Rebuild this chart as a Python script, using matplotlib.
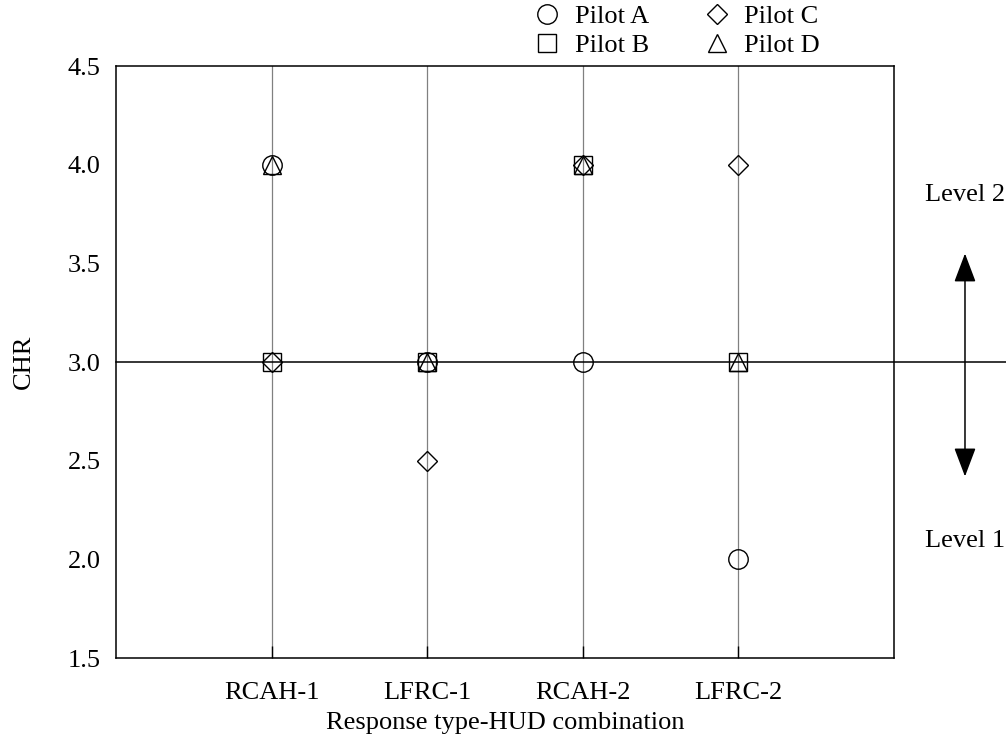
import numpy as np
import matplotlib
matplotlib.use("Agg")
import matplotlib.pyplot as plt

plt.rcParams['font.family'] = ['Liberation Serif', 'DejaVu Serif']

# CHR ratings per pilot for each response type / HUD combination
configs = ["RCAH-1", "LFRC-1", "RCAH-2", "LFRC-2"]
pilot_a = [4.0, 3.0, 3.0, 2.0]
pilot_b = [3.0, 3.0, 4.0, 3.0]
pilot_c = [3.0, 2.5, 4.0, 4.0]
pilot_d = [4.0, 3.0, 4.0, 3.0]

level_boundary = 3.0
yticks = [1.5, 2.0, 2.5, 3.0, 3.5, 4.0, 4.5]

fig = plt.figure(figsize=(10.06, 7.42), dpi=100)
ax = fig.add_axes([0.1153, 0.1132, 0.7734, 0.7978])

xpos = np.arange(1, len(configs) + 1)

# vertical guide line through each configuration
for x in xpos:
    ax.axvline(x, color="#808080", lw=0.9, zorder=1)

# Level 1 / Level 2 boundary, running past the right spine
ax.axhline(level_boundary, xmin=0, xmax=1.2, color="black", lw=1.1,
           clip_on=False, zorder=2)

style = dict(ls="none", mfc="none", mec="black", mew=1.0, zorder=3)
ax.plot(xpos, pilot_a, marker="o", ms=14, label="Pilot A", **style)
ax.plot(xpos, pilot_b, marker="s", ms=13, label="Pilot B", **style)
ax.plot(xpos, pilot_c, marker="D", ms=10, label="Pilot C", **style)
ax.plot(xpos, pilot_d, marker="^", ms=13, label="Pilot D", **style)

ax.set_xlim(0, 5)
ax.set_ylim(1.5, 4.5)
ax.set_xticks(xpos)
ax.set_xticklabels(configs)
ax.set_yticks(yticks)
ax.set_yticklabels([f"{v:.1f}" for v in yticks])
ax.tick_params(axis="x", direction="in", length=9, width=1.0, labelsize=19, pad=17)
ax.tick_params(axis="y", length=0, labelsize=19, pad=11)
for sp in ax.spines.values():
    sp.set_linewidth(1.1)

ax.set_ylabel("CHR", fontsize=19, labelpad=24)
ax.set_xlabel("Response type-HUD combination", fontsize=19, labelpad=6)

# double arrow marking the handling quality levels
arrow_x = 5.456
ax.annotate("", xy=(arrow_x, 3.55), xytext=(arrow_x, 2.42),
            arrowprops=dict(arrowstyle="<|-|>,head_length=1.8,head_width=0.68",
                            mutation_scale=10, color="black", lw=1.1,
                            shrinkA=0, shrinkB=0),
            annotation_clip=False)
ax.text(arrow_x, 3.845, "Level 2", fontsize=19, ha="center", va="center", clip_on=False)
ax.text(arrow_x, 2.093, "Level 1", fontsize=19, ha="center", va="center", clip_on=False)

fig.legend(loc="upper left", bbox_to_anchor=(0.518, 1.008), ncol=2, frameon=False,
           fontsize=19, handletextpad=0.45, columnspacing=1.95, labelspacing=0.2,
           borderaxespad=0, handlelength=1.2)

fig.savefig("out.png", dpi=100)
